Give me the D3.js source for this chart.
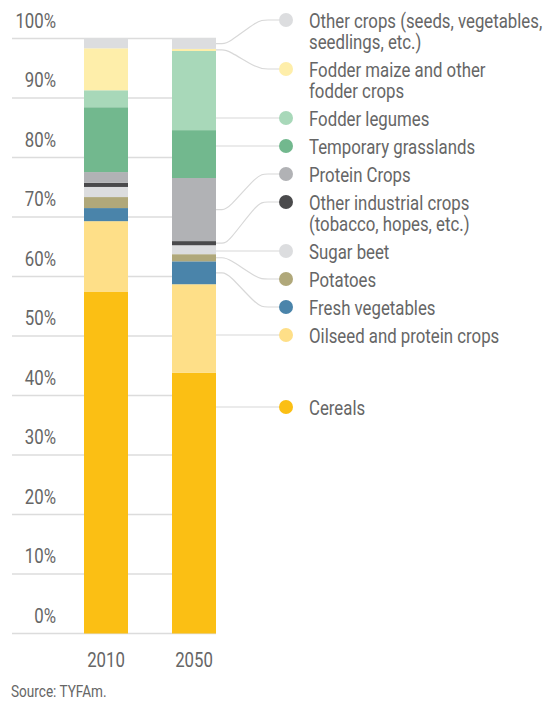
<!DOCTYPE html>
<html>
<head>
<meta charset="utf-8">
<script src="https://cdn.jsdelivr.net/npm/d3@7"></script>
<style>
  body { margin: 0; background: #fff; }
  svg text { font-family: Roboto, "Liberation Sans", sans-serif; fill: #666; }
</style>
</head>
<body>
<div id="chart"></div>
<script>
// years on the x axis
var years = ["2010", "2050"];

// crop groups, bottom of the stack first
var crops = [
  "Cereals",
  "Oilseed and protein crops",
  "Fresh vegetables",
  "Potatoes",
  "Sugar beet",
  "Other industrial crops\n(tobacco, hopes, etc.)",
  "Protein Crops",
  "Temporary grasslands",
  "Fodder legumes",
  "Fodder maize and other\nfodder crops",
  "Other crops (seeds, vegetables,\nseedlings, etc.)"
];

// share of area (%), same order as crops
var share2010 = [57.4, 11.9, 2.2, 1.85, 1.7, 0.7, 1.8, 10.9, 2.85, 7.05, 1.65];
var share2050 = [43.8, 14.9, 3.85, 1.2, 1.5, 0.7, 10.6, 8.05, 13.3, 0.35, 1.75];

var cropColors = ["#fbbf14", "#fedf88", "#4a84aa", "#b0a87a", "#dcdddf", "#4a4a4c",
                  "#b1b2b5", "#72b88e", "#a8d8b9", "#feeeaa", "#dcdddf"];

var yTicks = [0, 10, 20, 30, 40, 50, 60, 70, 80, 90, 100];

var W = 554, H = 702;
var SX = 0.8; // squeeze text, the original uses a condensed face
var svg = d3.select("#chart").append("svg").attr("width", W).attr("height", H);

function label(x0, y0, size, anchor) {
  return svg.append("text")
    .attr("transform", "translate(" + x0 + "," + y0 + ") scale(" + SX + ",1)")
    .attr("font-size", size).attr("text-anchor", anchor || "start");
}

var x = d3.scaleBand().domain(years).range([62, 238]).paddingInner(1).paddingOuter(0.5);
var y = d3.scaleLinear().domain([0, 100]).range([633.5, 38.5]);

// gridlines + labels
yTicks.forEach(function (t) {
  svg.append("line").attr("x1", 12).attr("x2", 216).attr("y1", y(t)).attr("y2", y(t))
    .attr("stroke", "#dcdcdc").attr("stroke-width", 1.5);
  label(56, y(t) - 11, 21, "end").text(t + "%");
});

// stack
var rows = years.map(function (yr, i) {
  var r = { year: yr };
  var vals = i === 0 ? share2010 : share2050;
  crops.forEach(function (c, j) { r[c] = vals[j]; });
  return r;
});
var series = d3.stack().keys(crops)(rows);
var color = d3.scaleOrdinal().domain(crops).range(cropColors);

var barW = 44;
svg.append("g").selectAll("g").data(series).join("g")
  .attr("fill", function (d) { return color(d.key); })
  .selectAll("rect").data(function (d) { return d; }).join("rect")
  .attr("x", function (d) { return x(d.data.year) + x.bandwidth() / 2 - barW / 2; })
  .attr("y", function (d) { return y(d[1]); })
  .attr("height", function (d) { return y(d[0]) - y(d[1]); })
  .attr("width", barW);

// x labels
years.forEach(function (yr) {
  label(x(yr) + x.bandwidth() / 2, 667, 21, "middle").text(yr);
});

// legend, top item first
var legend = series.slice().reverse();
var dotX = 286, barRight = x("2050") + x.bandwidth() / 2 + barW / 2;
var ly = 20;
var curve = d3.line().curve(d3.curveBasis);
legend.forEach(function (s, i) {
  var lines = s.key.split("\n");
  if (i === legend.length - 1) ly += 44;
  var seg = s[1];
  var top = y(seg[1]), bot = y(seg[0]);
  var y0;
  if (ly > top + 2 && ly < bot - 2) y0 = ly; else y0 = (top + bot) / 2;
  var pts = y0 === ly
    ? [[barRight, ly], [dotX, ly]]
    : [[barRight, y0], [barRight + 6, y0], [barRight + 12, y0], [dotX - 28, ly], [dotX - 20, ly], [dotX, ly]];
  svg.append("path").attr("d", curve(pts)).attr("fill", "none")
    .attr("stroke", "#d8d8d8").attr("stroke-width", 1.2);
  svg.append("circle").attr("cx", dotX).attr("cy", ly).attr("r", 7).attr("fill", color(s.key));
  var t = label(309, ly + 8, 21);
  lines.forEach(function (l, k) {
    t.append("tspan").attr("x", 0).attr("dy", k === 0 ? 0 : 21).text(l);
  });
  ly += 28 + 21 * (lines.length - 1);
});

label(11, 697, 17).text("Source: TYFAm.");
</script>
</body>
</html>
